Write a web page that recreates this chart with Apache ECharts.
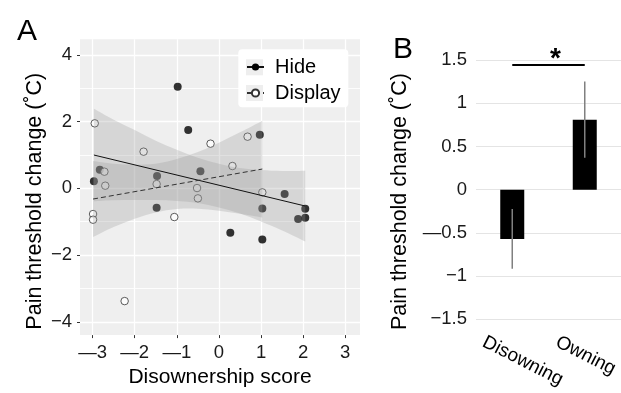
<!DOCTYPE html>
<html><head><meta charset="utf-8">
<script src="https://cdn.jsdelivr.net/npm/echarts@6/dist/echarts.min.js"></script>
<style>html,body{margin:0;padding:0;background:#fff}#c{width:621px;height:393px}</style>
</head><body><div id="c"></div>
<script>
// ---------- Panel A data ----------
const hideX = [-0.98, -0.73, 0.97, -2.83, -1.47, -0.44, -2.97, -1.48, 0.27, 1.03, 1.03, 1.56, 2.05, 1.88, 2.05];
const hideY = [3.05, 1.75, 1.61, 0.56, 0.37, 0.51, 0.21, -0.58, -1.33, -1.53, -0.60, -0.17, -0.61, -0.92, -0.88];
const displayX = [-2.95, -1.79, -0.20, 0.68, 0.32, -2.72, -2.70, -2.99, -2.99, -1.48, -1.06, -2.24, -0.52, -0.50, 1.03];
const displayY = [1.95, 1.10, 1.34, 1.55, 0.67, 0.50, 0.08, -0.77, -0.94, 0.13, -0.86, -3.38, 0.01, -0.30, -0.12];
const hideFitX = [-2.97, 2.05];
const hideFitY = [1.00, -0.53];
const displayFitX = [-2.99, 1.03];
const displayFitY = [-0.32, 0.58];
const hideBandX = [-2.97, -2.5, -2, -1.5, -1, -0.5, 0, 0.5, 1, 1.5, 2.05];
const hideBandUpper = [2.39, 2.06, 1.75, 1.43, 1.16, 0.92, 0.74, 0.61, 0.55, 0.52, 0.53];
const hideBandLower = [-0.39, -0.36, -0.35, -0.35, -0.38, -0.44, -0.57, -0.75, -0.99, -1.26, -1.59];
const displayBandX = [-2.99, -2.5, -2, -1.5, -1, -0.5, 0, 0.5, 1.03];
const displayBandUpper = [0.82, 0.74, 0.71, 0.74, 0.88, 1.09, 1.37, 1.68, 2.03];
const displayBandLower = [-1.46, -1.16, -0.91, -0.72, -0.62, -0.61, -0.67, -0.76, -0.87];
const aXTicks = [-3, -2, -1, 0, 1, 2, 3];
const aXTickLabels = ['—3', '—2', '—1', '0', '1', '2', '3'];
const aYTicks = [-4, -2, 0, 2, 4];
const aYTickLabels = ['−4', '−2', '0', '2', '4'];
const aYMinor = [-3, -1, 1, 3];
const legendNames = ['Hide', 'Display'];

// ---------- Panel B data ----------
const categories = ['Disowning', 'Owning'];
const means = [-0.57, 0.81];
const errors = [0.345, 0.44];
const bYTicks = [-1.5, -1, -0.5, 0, 0.5, 1, 1.5];
const bYTickLabels = ['−1.5', '−1', '—0.5', '0', '0.5', '1', '1.5'];
const sigLevel = 1.45;
const sigMark = '*';

const FONT = "'Liberation Sans', Arial, sans-serif";
const pairs = (xs, ys) => xs.map((x, i) => [x, ys[i]]);
const lab = (ticks, labels) => v => { const i = ticks.findIndex(t => Math.abs(t - v) < 1e-6); return i < 0 ? '' : labels[i]; };
const bandFill = 'rgba(150,150,150,0.28)';

// smooth curve (Catmull-Rom as cubic Bezier) through pixel points
function curveCmds(pts) {
  let d = '';
  for (let i = 0; i < pts.length - 1; i++) {
    const p0 = pts[Math.max(i - 1, 0)], p1 = pts[i], p2 = pts[i + 1], p3 = pts[Math.min(i + 2, pts.length - 1)];
    const c1 = [p1[0] + (p2[0] - p0[0]) / 6, p1[1] + (p2[1] - p0[1]) / 6];
    const c2 = [p2[0] - (p3[0] - p1[0]) / 6, p2[1] - (p3[1] - p1[1]) / 6];
    d += ' C' + c1[0] + ',' + c1[1] + ' ' + c2[0] + ',' + c2[1] + ' ' + p2[0] + ',' + p2[1];
  }
  return d;
}
function bandSeries(name, xs, up, lo) {
  return {
    type: 'custom', name: name, xAxisIndex: 0, yAxisIndex: 0, z: 2, silent: true,
    data: [[xs[0], lo[0]], [xs[xs.length - 1], up[up.length - 1]]],
    renderItem: (params, api) => {
      if (params.dataIndex !== 0) return null;
      const U = xs.map((x, i) => api.coord([x, up[i]]));
      const L = xs.map((x, i) => api.coord([x, lo[i]])).reverse();
      const d = 'M' + U[0][0] + ',' + U[0][1] + curveCmds(U) + ' L' + L[0][0] + ',' + L[0][1] + curveCmds(L) + ' Z';
      return {type: 'path', shape: {pathData: d}, style: {fill: bandFill, stroke: null}};
    }
  };
}

const chart = echarts.init(document.getElementById('c'), null, {renderer: 'canvas'});
chart.setOption({
  animation: false,
  textStyle: {fontFamily: FONT},
  title: [
    {text: 'A', left: 12, top: 12, textStyle: {fontFamily: FONT, fontSize: 30, fontWeight: 'normal', color: '#000'}},
    {text: 'B', left: 388, top: 30, textStyle: {fontFamily: FONT, fontSize: 30, fontWeight: 'normal', color: '#000'}}
  ],
  grid: [
    {left: 80, top: 39.3, width: 280, height: 297.4, show: true, backgroundColor: '#EFEFEF', borderWidth: 0},
    {left: 476, top: 60, width: 148, height: 259.3, show: false},
    {left: 447, top: 300, width: 148, height: 20, show: false}
  ],
  xAxis: [
    {type: 'value', gridIndex: 0, min: -3.3, max: 3.35, position: 'bottom',
     axisLine: {show: false, onZero: false},
     axisTick: {show: true, length: 3, lineStyle: {color: '#333'}, customValues: aXTicks},
     axisLabel: {customValues: aXTicks, formatter: lab(aXTicks, aXTickLabels), fontSize: 18.5, color: '#1a1a1a', margin: 8, fontFamily: FONT},
     splitLine: {show: true, lineStyle: {color: '#fff', width: 1.3}},
     name: 'Disownership score', nameLocation: 'middle', nameGap: 29,
     nameTextStyle: {fontSize: 21, color: '#000', fontFamily: FONT}},
    {type: 'category', gridIndex: 1, data: categories,
     axisLine: {show: false, onZero: false}, axisTick: {show: false}, axisLabel: {show: false}, splitLine: {show: false}},
    {type: 'category', gridIndex: 2, data: categories,
     axisLine: {show: false, onZero: false}, axisTick: {show: false},
     axisLabel: {rotate: -27, fontSize: 19, color: '#000', margin: 21, fontFamily: FONT, interval: 0}}
  ],
  yAxis: [
    {type: 'value', gridIndex: 0, min: -4.4, max: 4.47, position: 'left',
     axisLine: {show: false, onZero: false},
     axisTick: {show: true, length: 3, lineStyle: {color: '#333'}, customValues: aYTicks},
     axisLabel: {customValues: aYTicks, formatter: lab(aYTicks, aYTickLabels), fontSize: 18.5, color: '#1a1a1a', margin: 8, fontFamily: FONT},
     splitLine: {show: true, lineStyle: {color: '#fff', width: 1.3}},
     name: 'Pain threshold change (˚C)', nameLocation: 'middle', nameGap: 34,
     nameTextStyle: {fontSize: 21.5, color: '#000', fontFamily: FONT, padding: [0, 28, 0, 0]}},
    {type: 'value', gridIndex: 0, min: -4.4, max: 4.47, position: 'right',
     axisLine: {show: false, onZero: false}, axisTick: {show: false, customValues: aYMinor},
     axisLabel: {show: false, customValues: aYMinor},
     splitLine: {show: true, lineStyle: {color: 'rgba(255,255,255,0.85)', width: 1}}},
    {type: 'value', gridIndex: 1, min: -1.5, max: 1.5, interval: 0.5,
     axisLine: {show: false, onZero: false}, axisTick: {show: false},
     axisLabel: {formatter: lab(bYTicks, bYTickLabels), fontSize: 18.5, color: '#1a1a1a', margin: 9, fontFamily: FONT},
     splitLine: {show: true, lineStyle: {color: '#E4E4E4', width: 1}},
     name: 'Pain threshold change (˚C)', nameLocation: 'middle', nameGap: 65,
     nameTextStyle: {fontSize: 21.5, color: '#000', fontFamily: FONT, padding: [0, 24, 0, 0]}},
    {type: 'value', gridIndex: 2, show: false}
  ],
  legend: {
    data: legendNames, orient: 'vertical', left: 246, top: 57,
    itemWidth: 17, itemHeight: 9, itemGap: 6, z: 7, padding: 0,
    textStyle: {fontSize: 20, color: '#000', fontFamily: FONT, padding: [0, 0, 0, 6]},
    selectedMode: false
  },
  graphic: [
    {type: 'rect', shape: {x: 238.3, y: 49.3, width: 110, height: 58, r: 4}, style: {fill: '#fff'}, z: 5, silent: true},
    {type: 'rect', shape: {x: 246, y: 59.3, width: 17, height: 16}, style: {fill: '#EEEEEE'}, z: 6, silent: true},
    {type: 'rect', shape: {x: 246, y: 85, width: 17, height: 16}, style: {fill: '#EEEEEE'}, z: 6, silent: true}
  ],
  series: [
    {type: 'scatter', name: 'hidePts', xAxisIndex: 0, yAxisIndex: 0, data: pairs(hideX, hideY),
     symbol: 'circle', symbolSize: 8, itemStyle: {color: '#000'}, z: 1, silent: true},
    {type: 'scatter', name: 'displayPts', xAxisIndex: 0, yAxisIndex: 0, data: pairs(displayX, displayY),
     symbol: 'circle', symbolSize: 7.5, itemStyle: {color: '#fff', borderColor: '#333', borderWidth: 1}, z: 1, silent: true},
    bandSeries('hideBand', hideBandX, hideBandUpper, hideBandLower),
    bandSeries('displayBand', displayBandX, displayBandUpper, displayBandLower),
    {type: 'line', name: 'Hide', xAxisIndex: 0, yAxisIndex: 0, data: pairs(hideFitX, hideFitY),
     symbol: 'circle', showSymbol: false, itemStyle: {color: '#000'}, lineStyle: {color: '#111', width: 1}, z: 3, silent: true},
    {type: 'line', name: 'Display', xAxisIndex: 0, yAxisIndex: 0, data: pairs(displayFitX, displayFitY),
     symbol: 'emptyCircle', showSymbol: false, itemStyle: {color: '#333'}, lineStyle: {color: '#333', width: 1, type: [5, 3]}, z: 3, silent: true},
    {type: 'bar', name: 'means', xAxisIndex: 1, yAxisIndex: 2, data: means, barWidth: 24,
     itemStyle: {color: '#000'}, silent: true,
     markLine: {silent: true, symbol: 'none', animation: false,
       data: [[{coord: [categories[0], sigLevel]}, {coord: [categories[1], sigLevel]}]],
       lineStyle: {color: '#000', width: 2, type: 'solid'},
       label: {show: true, position: 'middle', formatter: sigMark, fontSize: 28, fontWeight: 'bold', color: '#000', fontFamily: FONT, padding: [0, 0, 0, 14], distance: -9},
       emphasis: {disabled: true}}},
    {type: 'custom', name: 'err', xAxisIndex: 1, yAxisIndex: 2, z: 5, silent: true,
     data: categories.map((c, i) => [i, means[i] - errors[i], means[i] + errors[i]]),
     renderItem: (params, api) => {
       const p1 = api.coord([api.value(0), api.value(1)]);
       const p2 = api.coord([api.value(0), api.value(2)]);
       return {type: 'line', shape: {x1: p1[0], y1: p1[1], x2: p2[0], y2: p2[1]}, style: {stroke: '#808080', lineWidth: 1.5}};
     }}
  ]
});
</script></body></html>
